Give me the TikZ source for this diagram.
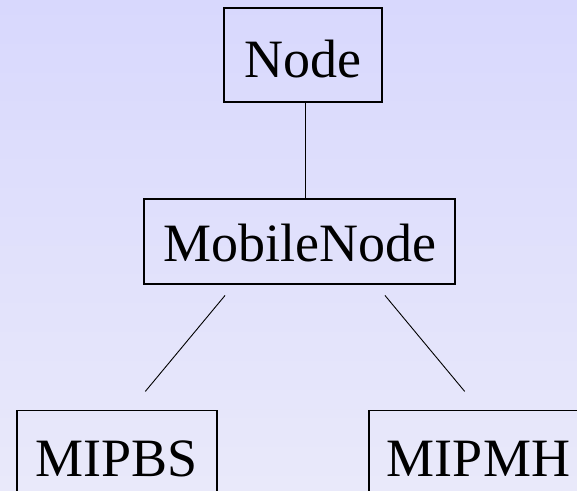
\documentclass[tikz,border=0pt]{standalone}
\usepackage{fontspec}
\setmainfont{Liberation Serif}
\begin{document}
\begin{tikzpicture}[x=1pt,y=-1pt,
  classbox/.style={draw=black, line width=1.3pt, inner sep=0pt,
    font=\fontsize{54}{60}\selectfont, text height=39pt, text depth=0pt},
  link/.style={draw=black, line width=0.9pt}]
  % page and soft vertical gradient
  \useasboundingbox (0,0) rectangle (577,490);
  \clip (0,0) rectangle (577,490);
  \shade[top color={rgb,255:red,216;green,216;blue,253},
         bottom color={rgb,255:red,233;green,233;blue,250}]
    (0,0) rectangle (577,490);

  % class boxes
  \node[classbox, text height=44pt, minimum width=158pt, minimum height=94pt] (N) at (303,55) {Node};
  \node[classbox, minimum width=311pt, minimum height=85pt] (MN) at (299.5,241.5) {MobileNode};
  \node[classbox, minimum width=200pt, minimum height=93pt] (BS) at (117,457) {MIPBS};
  \node[classbox, minimum width=219pt, minimum height=93pt] (MH) at (478.5,457) {MIPMH};

  % inheritance links
  \draw[link] ([xshift=2pt]N.south) -- ([xshift=5.5pt]MN.north);
  \draw[link, shorten <=14pt, shorten >=24pt]
    ([xshift=-65.5pt]MN.south) -- ([xshift=13pt]BS.north);
  \draw[link, shorten <=14pt, shorten >=24pt]
    ([xshift=76.5pt]MN.south) -- ([xshift=1.5pt]MH.north);
\end{tikzpicture}
\end{document}
